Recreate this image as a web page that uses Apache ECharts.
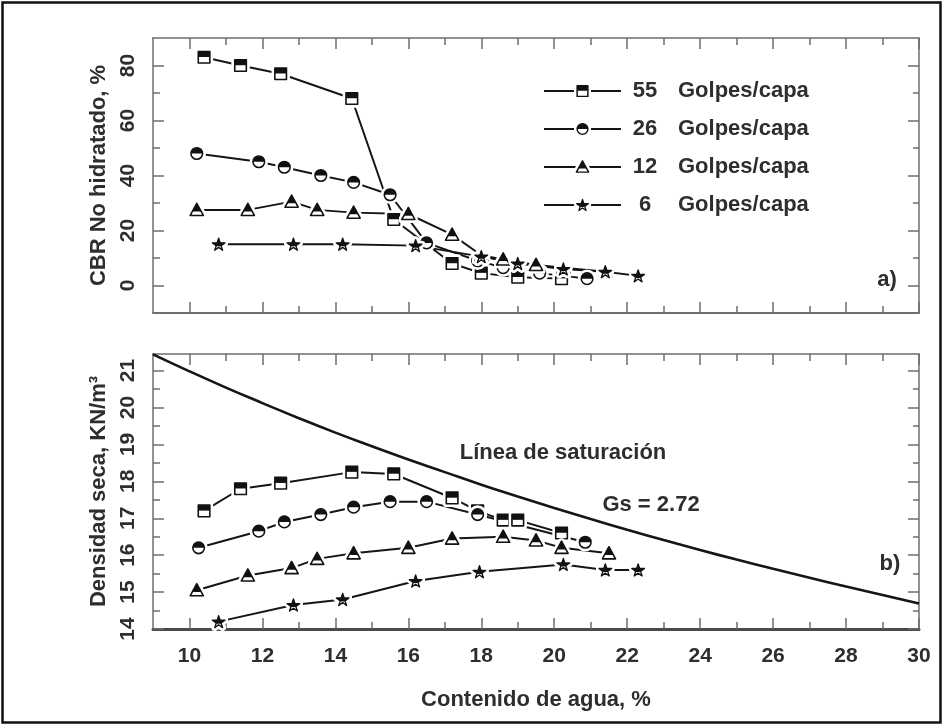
<!DOCTYPE html>
<html>
<head>
<meta charset="utf-8">
<script src="https://cdn.jsdelivr.net/npm/echarts@6/dist/echarts.min.js"></script>
<style>
  html, body { margin: 0; padding: 0; background: #fff; }
  #chart { width: 945px; height: 726px; }
</style>
</head>
<body>
<div id="chart"></div>
<script>
// ---- Data: water content (%) paired with measured values ----
// a) unsoaked CBR (%)
const cbr55 = [[10.4, 83], [11.4, 80], [12.5, 77], [14.45, 68], [15.6, 24], [17.2, 8], [18.0, 4.5], [19.0, 3], [20.2, 2.5]];
const cbr26 = [[10.2, 48], [11.9, 45], [12.6, 43], [13.6, 40], [14.5, 37.5], [15.5, 33], [16.5, 15.5], [17.9, 9], [18.6, 6.5], [19.6, 4.5], [20.9, 2.5]];
const cbr12 = [[10.2, 27.5], [11.6, 27.5], [12.8, 30.5], [13.5, 27.5], [14.5, 26.5], [16.0, 26], [17.2, 18.5], [18.0, 11], [18.6, 9.5], [19.5, 7.5], [20.25, 6.5], [21.4, 5]];
const cbr6 = [[10.8, 15], [12.85, 15], [14.2, 15], [16.2, 14.5], [18.0, 10.5], [19.0, 8], [20.25, 6], [21.4, 5], [22.3, 3.5]];

// b) dry density (kN/m3)
const dens55 = [[10.4, 17.2], [11.4, 17.8], [12.5, 17.95], [14.45, 18.25], [15.6, 18.2], [17.2, 17.55], [17.9, 17.2], [18.6, 16.95], [19.0, 16.95], [20.2, 16.6]];
const dens26 = [[10.25, 16.2], [11.9, 16.65], [12.6, 16.9], [13.6, 17.1], [14.5, 17.3], [15.5, 17.45], [16.5, 17.45], [17.9, 17.1], [20.85, 16.35]];
const dens12 = [[10.2, 15.05], [11.6, 15.45], [12.8, 15.65], [13.5, 15.9], [14.5, 16.05], [16.0, 16.2], [17.2, 16.45], [18.6, 16.5], [19.5, 16.4], [20.2, 16.2], [21.5, 16.05]];
const dens6 = [[10.8, 14.2], [12.85, 14.65], [14.2, 14.8], [16.2, 15.3], [17.95, 15.55], [20.25, 15.75], [21.4, 15.6], [22.3, 15.6]];

// zero-air-voids (saturation) line, Gs = 2.72
const satW = [9, 10, 11, 12, 13, 14, 15, 16, 17, 18, 19, 20, 21, 22, 23, 24, 25, 26, 27, 28, 29, 30];
const satGd = [21.44, 20.98, 20.54, 20.12, 19.71, 19.32, 18.95, 18.59, 18.25, 17.91, 17.59, 17.28, 16.98, 16.69, 16.41, 16.14, 15.88, 15.63, 15.39, 15.15, 14.92, 14.69];

const seriesNames = ['55 Golpes/capa', '26 Golpes/capa', '12 Golpes/capa', '6 Golpes/capa'];

// tick positions
const xMajor = [10, 12, 14, 16, 18, 20, 22, 24, 26, 28, 30];
const xMinor = [11, 13, 15, 17, 19, 21, 23, 25, 27, 29];
const cbrMajor = [0, 20, 40, 60, 80];
const cbrMinor = [10, 30, 50, 70];
const densMajor = [14, 15, 16, 17, 18, 19, 20, 21];
const densMinor = [14.5, 15.5, 16.5, 17.5, 18.5, 19.5, 20.5];

// ---- Styling ----
const FONT = "'Liberation Sans', Arial, sans-serif";
const INK = '#2e2e2e';
const FRAME = '#6e6e6e';
const LINE = '#151515';

// Half-filled markers (black top, white bottom) with a white halo so
// connecting lines stop short of each symbol.
function svgSymbol(halo, shape, top) {
  const svg = '<svg xmlns="http://www.w3.org/2000/svg" width="36" height="36" viewBox="0 0 36 36"><g transform="translate(1,1)">' +
    halo + shape + top + '</g></svg>';
  return 'image://data:image/svg+xml;charset=utf-8,' + encodeURIComponent(svg);
}
const H = 'fill="#fff" stroke="#fff" stroke-width="13" stroke-linejoin="round"';
const S = 'fill="#fff" stroke="#111" stroke-width="3" stroke-linejoin="round"';
const T = 'fill="#111"';
const starPts = '17,5.6 19.83,14.31 28.98,14.31 21.58,19.68 24.41,28.39 17,23.02 9.59,28.39 12.42,19.68 5.02,14.31 14.17,14.31';
const symSquare = svgSymbol(
  '<rect x="6" y="6" width="22" height="22" ' + H + '/>',
  '<rect x="6" y="6" width="22" height="22" ' + S + '/>',
  '<rect x="6" y="6" width="22" height="10.5" ' + T + '/>');
const symCircle = svgSymbol(
  '<circle cx="17" cy="17" r="11" ' + H + '/>',
  '<circle cx="17" cy="17" r="11" ' + S + '/>',
  '<path d="M6 17 A11 11 0 0 1 28 17 Z" ' + T + '/>');
const symTriangle = svgSymbol(
  '<polygon points="17,4.5 29.5,27.5 4.5,27.5" ' + H + '/>',
  '<polygon points="17,4.5 29.5,27.5 4.5,27.5" ' + S + '/>',
  '<polygon points="17,4.5 25.6,20.3 8.4,20.3" ' + T + '/>');
const symStar = svgSymbol(
  '<polygon points="' + starPts + '" ' + H + '/>',
  '<polygon points="' + starPts + '" fill="#fff" stroke="#111" stroke-width="2.6" stroke-linejoin="round"/>',
  '<polygon points="17,5.6 19.83,14.31 28.98,14.31 21.58,19.68 22,21 12,21 12.42,19.68 5.02,14.31 14.17,14.31" ' + T + '/>');
const symbols = [symSquare, symCircle, symTriangle, symStar];

// One value axis carrying one set of inside ticks.
function frameAxis(grid, position, min, max, ticks, len, extra) {
  const ax = {
    type: 'value', gridIndex: grid, position: position, min: min, max: max,
    axisLine: { show: false, onZero: false, lineStyle: { color: FRAME, width: 1.5 } },
    axisTick: { show: true, inside: true, length: len, customValues: ticks, lineStyle: { color: FRAME, width: 1.5 } },
    axisLabel: { show: false },
    splitLine: { show: false },
    minorTick: { show: false }
  };
  return Object.assign(ax, extra || {});
}
function axisLine(width, color) {
  return { show: true, onZero: false, lineStyle: { color: color || FRAME, width: width } };
}

const labelStyle = { fontFamily: FONT, fontSize: 21, fontWeight: 'bold', color: INK };
const nameStyle = { fontFamily: FONT, fontSize: 22, fontWeight: 'bold', color: INK };

// Per grid: [main bottom/left (major), bottom/left minor, top/right major, top/right minor]
const xAxes = [];
const yAxes = [];
[0, 1].forEach(function (g) {
  const bottomExtra = { axisLine: axisLine(g === 1 ? 3 : 1.8, g === 1 ? '#4a4a4a' : FRAME) };
  if (g === 1) {
    bottomExtra.axisLabel = Object.assign({ show: true, customValues: xMajor, margin: 17 }, labelStyle);
    bottomExtra.name = 'Contenido de agua, %';
    bottomExtra.nameLocation = 'middle';
    bottomExtra.nameGap = 60;
    bottomExtra.nameTextStyle = nameStyle;
  }
  xAxes.push(frameAxis(g, 'bottom', 9, 30, xMajor, 11, bottomExtra));
  xAxes.push(frameAxis(g, 'bottom', 9, 30, xMinor, 7));
  xAxes.push(frameAxis(g, 'top', 9, 30, xMajor, 11, { axisLine: axisLine(1.5) }));
  xAxes.push(frameAxis(g, 'top', 9, 30, xMinor, 7));

  const ymin = g === 0 ? -10 : 14;
  const ymax = g === 0 ? 90 : 21.45;
  const major = g === 0 ? cbrMajor : densMajor;
  const minor = g === 0 ? cbrMinor : densMinor;
  yAxes.push(frameAxis(g, 'left', ymin, ymax, major, 11, {
    axisLine: axisLine(1.5),
    axisLabel: Object.assign({ show: true, customValues: major, rotate: 90, margin: 14 }, labelStyle),
    name: g === 0 ? 'CBR No hidratado, %' : 'Densidad seca, KN/m³',
    nameLocation: 'middle',
    nameGap: 33,
    nameTextStyle: nameStyle
  }));
  yAxes.push(frameAxis(g, 'left', ymin, ymax, minor, 7));
  yAxes.push(frameAxis(g, 'right', ymin, ymax, major, 11, { axisLine: axisLine(1.5) }));
  yAxes.push(frameAxis(g, 'right', ymin, ymax, minor, 6));
});

function dataSeries(name, data, sym, g) {
  return {
    type: 'line', name: name, data: data,
    xAxisIndex: g * 4, yAxisIndex: g * 4,
    symbol: sym, symbolSize: 19,
    lineStyle: { color: LINE, width: 2 },
    itemStyle: { color: LINE },
    emphasis: { disabled: true },
    silent: true, z: 3
  };
}

const topSets = [cbr55, cbr26, cbr12, cbr6];
const botSets = [dens55, dens26, dens12, dens6];
const series = [];
seriesNames.forEach(function (n, i) { series.push(dataSeries(n, topSets[i], symbols[i], 0)); });
seriesNames.forEach(function (n, i) { series.push(dataSeries(n, botSets[i], symbols[i], 1)); });
series.push({
  type: 'line', name: 'saturación',
  data: satW.map(function (w, i) { return [w, satGd[i]]; }),
  xAxisIndex: 4, yAxisIndex: 4,
  symbol: 'none', smooth: true,
  lineStyle: { color: LINE, width: 2.6 },
  silent: true, z: 2
});

const chart = echarts.init(document.getElementById('chart'), null, { renderer: 'canvas' });
chart.setOption({
  animation: false,
  backgroundColor: '#fff',
  grid: [
    { left: 153, top: 38, width: 766, height: 275 },
    { left: 153, top: 354, width: 766, height: 275 }
  ],
  xAxis: xAxes,
  yAxis: yAxes,
  legend: {
    data: seriesNames,
    orient: 'vertical',
    left: 538, top: 75,
    itemWidth: 77, itemHeight: 22, itemGap: 16,
    selectedMode: false,
    formatter: function (name) {
      const parts = name.split(' ');
      return '{n|' + parts[0] + '}{g|' + parts.slice(1).join(' ') + '}';
    },
    textStyle: {
      rich: {
        n: { width: 38, align: 'right', fontFamily: FONT, fontSize: 22, fontWeight: 'bold', color: INK },
        g: { padding: [0, 0, 0, 14], fontFamily: FONT, fontSize: 22, fontWeight: 'bold', color: INK }
      }
    }
  },
  graphic: [
    { type: 'rect', shape: { x: 2.5, y: 2.5, width: 938, height: 720 }, style: { fill: 'none', stroke: '#111', lineWidth: 2.5 }, silent: true },
    { type: 'text', x: 887, y: 280, style: { text: 'a)', font: 'bold 22px ' + FONT, fill: INK, align: 'center', verticalAlign: 'middle' } },
    { type: 'text', x: 890, y: 564, style: { text: 'b)', font: 'bold 22px ' + FONT, fill: INK, align: 'center', verticalAlign: 'middle' } },
    { type: 'text', x: 563, y: 453, style: { text: 'Línea de saturación', font: 'bold 22px ' + FONT, fill: INK, align: 'center', verticalAlign: 'middle' } },
    { type: 'text', x: 651, y: 505, style: { text: 'Gs = 2.72', font: 'bold 22px ' + FONT, fill: INK, align: 'center', verticalAlign: 'middle' } }
  ],
  series: series
});
</script>
</body>
</html>
